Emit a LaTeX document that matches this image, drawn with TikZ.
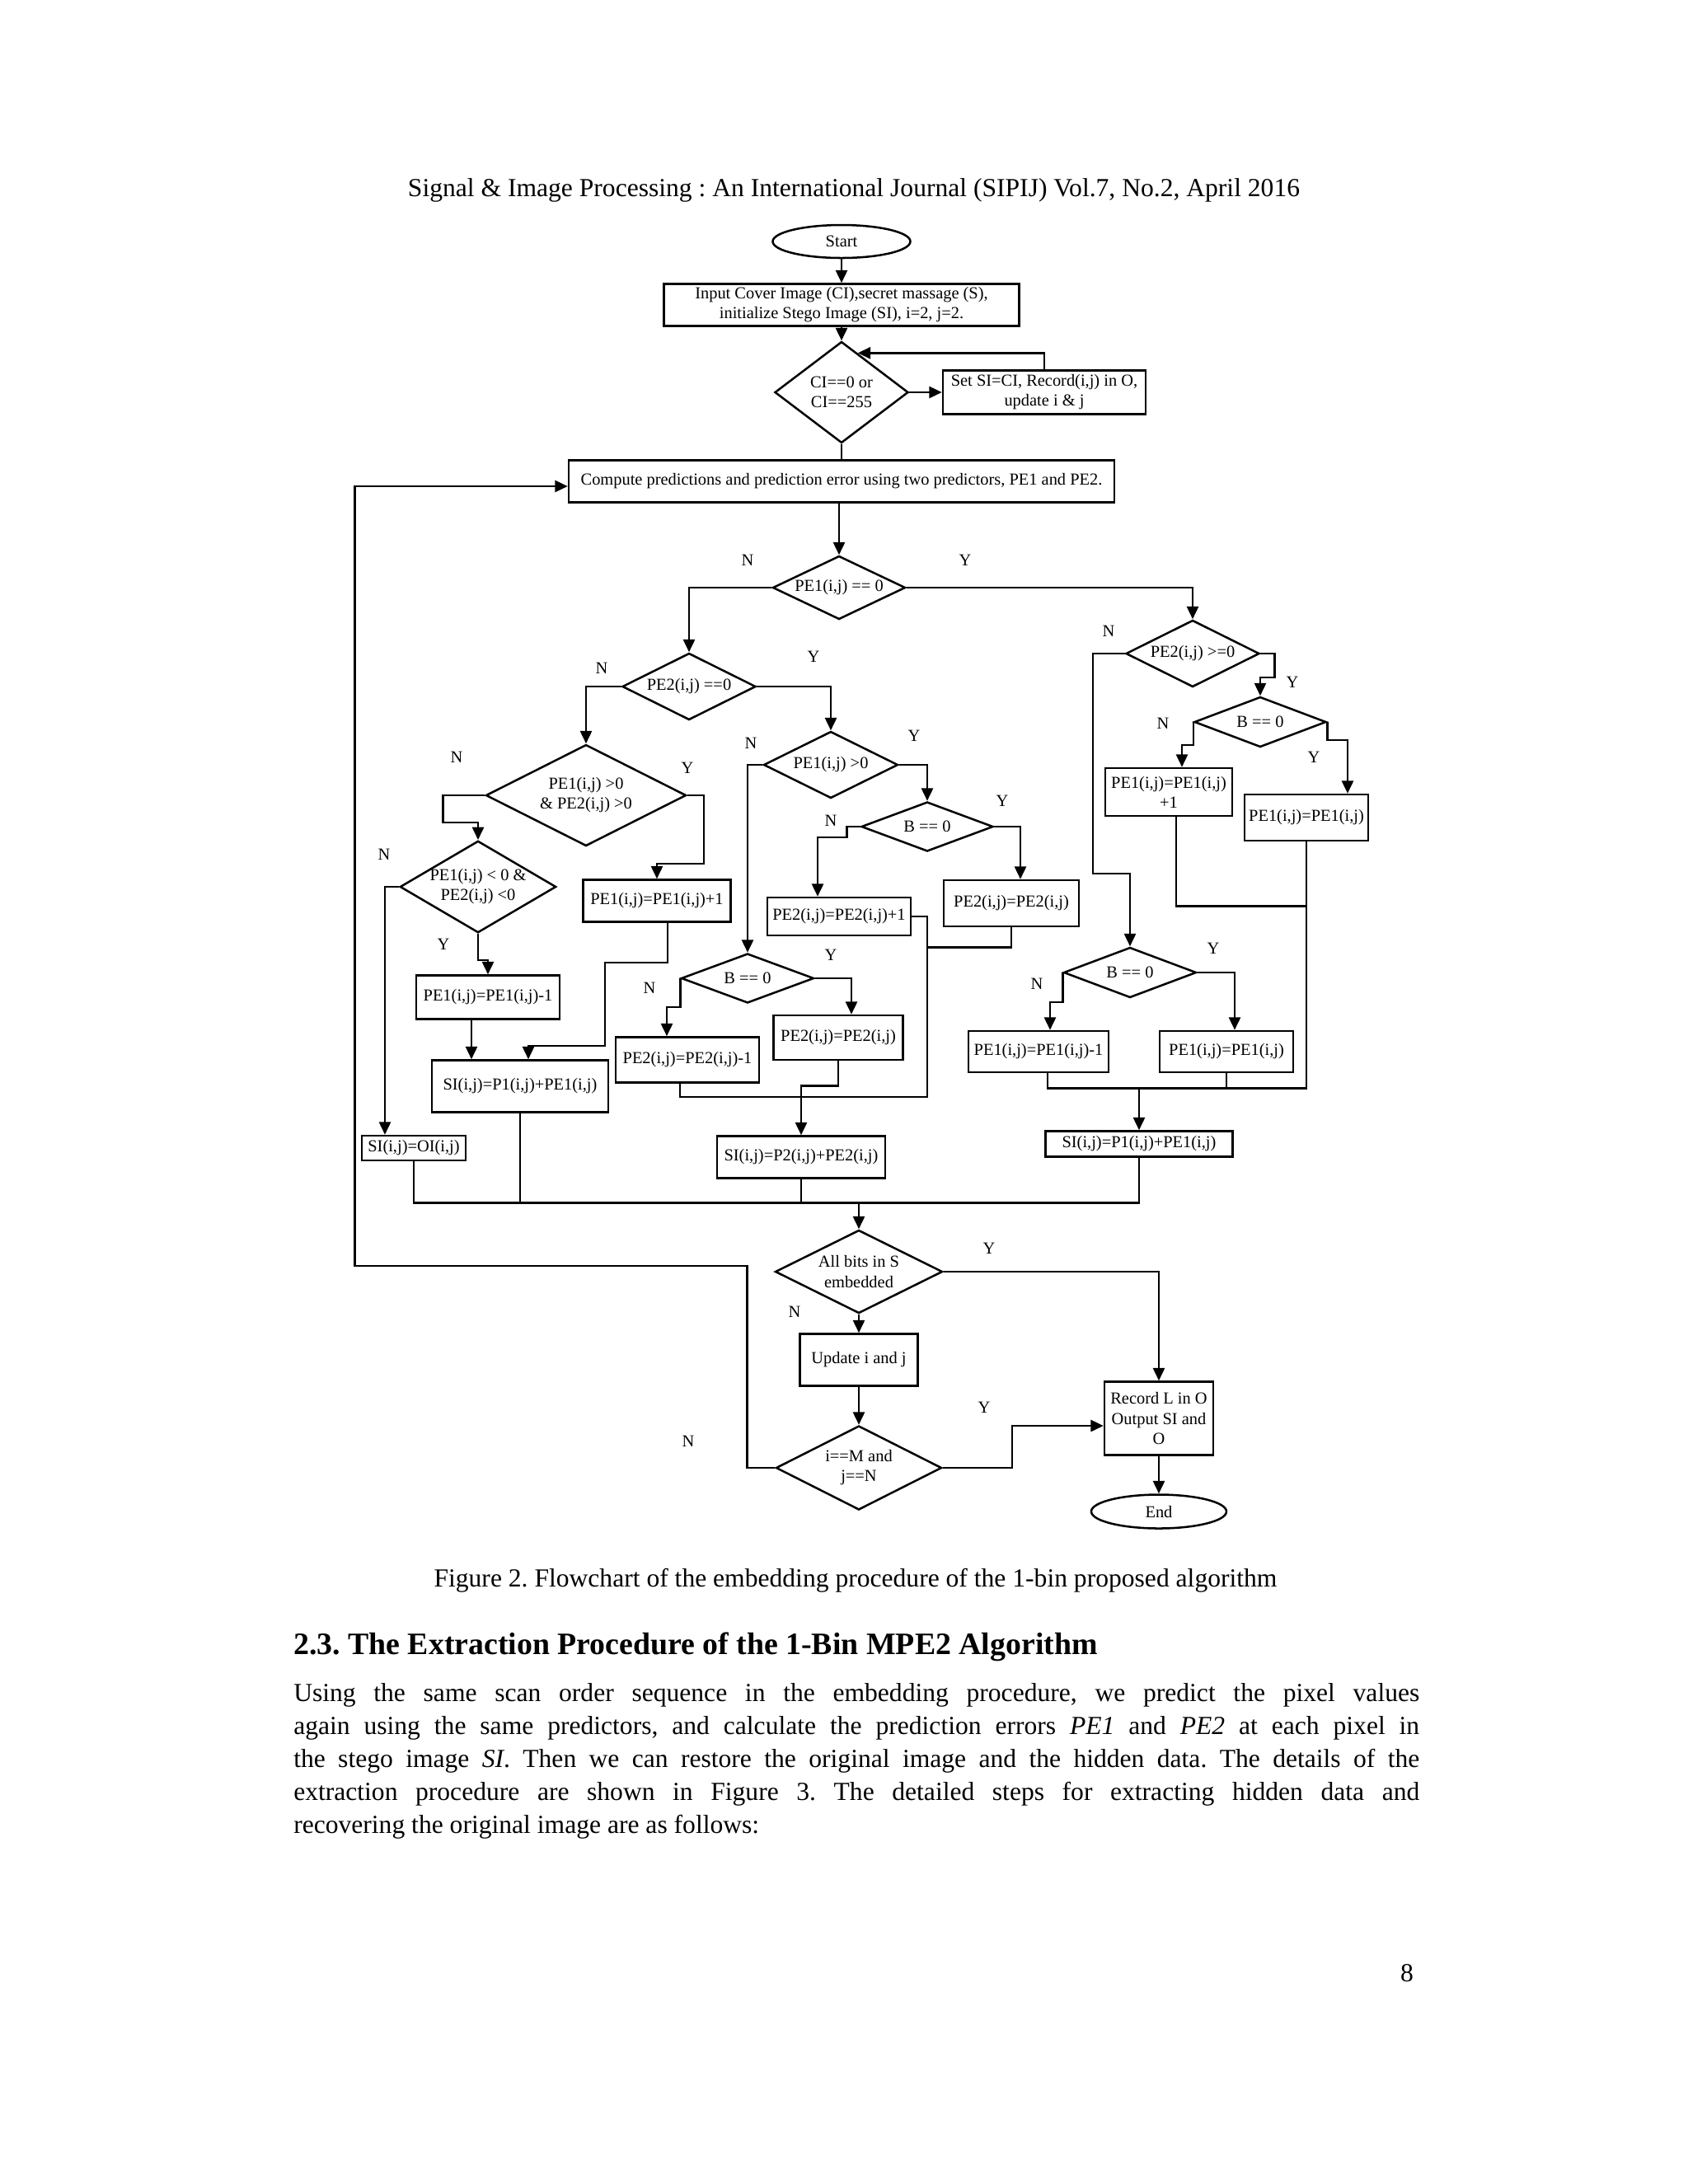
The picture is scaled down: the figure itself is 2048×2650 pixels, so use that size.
\documentclass[tikz,border=0pt]{standalone}
\usepackage{fontspec}
\setmainfont{Liberation Serif}
\usetikzlibrary{shapes.geometric,arrows.meta,calc}
\frenchspacing
\newcommand{\pxu}{0.29883pt}
\tikzset{
  chart/.style={font=\fontsize{6.1}{7.2}\selectfont},
  sz/.style 2 args={minimum width=#1*\pxu, minimum height=#2*\pxu},
  box/.style={draw, rectangle, inner sep=0pt, align=center, chart},
  dec/.style={draw, diamond, inner sep=0pt, align=center, chart, aspect=#1},
  dec/.default=2,
  term/.style={draw, ellipse, inner sep=0pt, chart},
  lbl/.style={chart, inner sep=0pt},
  arr/.style={-{Triangle[length=4.6pt,width=4.2pt]}},
  page/.style={font=\fontsize{9.44}{11.95}\selectfont}
}
\begin{document}
\begin{tikzpicture}[x=\pxu, y=-\pxu, line width=0.75pt]
\fill[white] (0,0) rectangle (2048,2650);
\useasboundingbox (0,0) rectangle (2048,2650);

\node[page] (head) at (1036,231) {Signal \& Image Processing : An International Journal (SIPIJ) Vol.7, No.2, April 2016};

% top of the chart
\node[term, sz={167}{40}] (start) at (1021,293) {Start};
\node[box, sz={431}{51}] (input) at (1021,370) {Input Cover Image (CI),secret massage (S),\\initialize Stego Image (SI), i=2, j=2.};
\node[dec=1.3, sz={162}{123}] (ci) at (1021,476) {CI==0 or\\CI==255};
\node[box, sz={246}{53}] (setci) at (1267,476) {Set SI=CI, Record(i,j) in O,\\update i \& j};
\node[box, sz={662}{51}] (compute) at (1021,584) {Compute predictions and prediction error using two predictors, PE1 and PE2.};

% left part
\node[dec=2.1, sz={161}{77}] (pe1z) at (1018,713) {PE1(i,j) == 0};
\node[dec, sz={162}{81}] (pe2z) at (836,833) {PE2(i,j) ==0};
\node[dec, sz={243}{123}] (bothpos) at (711,965) {PE1(i,j) >0\\\& PE2(i,j) >0};
\node[dec=1.7, sz={182}{108}] (bothneg) at (580,1076) {PE1(i,j) < 0 \&\\PE2(i,j) <0};
\node[box, sz={174}{53}] (dec1a) at (592,1210) {PE1(i,j)=PE1(i,j)-1};
\node[box, sz={179}{51}] (inc1a) at (797,1093) {PE1(i,j)=PE1(i,j)+1};
\node[box, sz={214}{63}] (sip1a) at (631,1318) {SI(i,j)=P1(i,j)+PE1(i,j)};
\node[box, sz={126}{30}] (sioi) at (502,1393) {SI(i,j)=OI(i,j)};

% middle part
\node[dec, sz={163}{81}] (pe1pos) at (1008,928) {PE1(i,j) >0};
\node[dec=2.7, sz={160}{60}] (bz1) at (1125,1003) {B == 0};
\node[box, sz={174}{46}] (inc2) at (1018,1112) {PE2(i,j)=PE2(i,j)+1};
\node[box, sz={164}{56}] (keep2a) at (1227,1096) {PE2(i,j)=PE2(i,j)};
\node[dec=2.7, sz={161}{60}] (bz2) at (907,1187) {B == 0};
\node[box, sz={174}{55}] (dec2) at (834,1286) {PE2(i,j)=PE2(i,j)-1};
\node[box, sz={157}{54}] (keep2b) at (1017,1259) {PE2(i,j)=PE2(i,j)};
\node[box, sz={204}{51}] (sip2) at (972,1404) {SI(i,j)=P2(i,j)+PE2(i,j)};

% right part
\node[dec, sz={162}{81}] (pe2nn) at (1447,793) {PE2(i,j) >=0};
\node[dec=2.7, sz={160}{61}] (bz3) at (1529,876) {B == 0};
\node[box, sz={154}{58}] (inc1b) at (1418,961) {PE1(i,j)=PE1(i,j)\\+1};
\node[box, sz={150}{56}] (keep1a) at (1585,992) {PE1(i,j)=PE1(i,j)};
\node[dec=2.7, sz={161}{61}] (bz4) at (1371,1180) {B == 0};
\node[box, sz={170}{50}] (dec1b) at (1260,1276) {PE1(i,j)=PE1(i,j)-1};
\node[box, sz={162}{50}] (keep1b) at (1488,1276) {PE1(i,j)=PE1(i,j)};
\node[box, sz={227}{31}] (sip1b) at (1382,1388) {SI(i,j)=P1(i,j)+PE1(i,j)};

% bottom
\node[dec, sz={203}{101}] (allbits) at (1042,1543) {All bits in S\\embedded};
\node[box, sz={143}{63}] (update) at (1042,1650) {Update i and j};
\node[dec, sz={201}{102}] (last) at (1042,1781) {i==M and\\j==N};
\node[box, sz={132}{89}] (record) at (1406,1721) {Record L in O\\Output SI and\\O};
\node[term, sz={164}{41}] (end) at (1406,1834) {End};

% connectors
\draw[arr] (start.south) -- (input.north);
\draw[arr] (input.south) -- (ci.north);
\draw[arr] (ci.east) -- (setci.west);
\coordinate (ciback) at ($(ci.north)!0.24!(ci.east)$);
\draw[arr] (setci.north) |- (ciback);
\draw (ci.south) -- (compute.north);
\draw[arr] (compute.south -| pe1z.north) -- (pe1z.north);
\draw[arr] (pe1z.west) -| (pe2z.north);
\draw[arr] (pe1z.east) -| (pe2nn.north);
\draw[arr] (pe2z.west) -| (bothpos.north);
\draw[arr] (pe2z.east) -| (pe1pos.north);
\draw[arr] (bothpos.west) -- ++(-51,0) -- ++(0,33) -| (bothneg.north);
\draw[arr] (bothpos.east) -- ++(20,0) -- ++(0,83) -| (inc1a.north);
\draw[arr] (bothneg.west) -| ($(sioi.north)+(-35,0)$);
\draw[arr] (bothneg.south) -- ++(0,32) -| (dec1a.north);
\draw[arr] ($(dec1a.south)+(-20,0)$) -- ($(sip1a.north)+(-59,0)$);
\draw[arr] ($(inc1a.south)+(13,0)$) -- ++(0,48) -- ++(-76,0) -- ++(0,101) -| ($(sip1a.north)+(10,0)$);

\draw[arr] (pe1pos.west) -| (bz2.north);
\draw[arr] (pe1pos.east) -| (bz1.north);
\draw[arr] (bz1.west) -- ++(-16,0) -- ++(0,13) -| ($(inc2.north)+(-26,0)$);
\draw[arr] (bz1.east) -| ($(keep2a.north)+(11,0)$);
\draw[arr] (bz2.west) -- ++(0,35) -| ($(dec2.north)+(-25,0)$);
\draw[arr] (bz2.east) -| ($(keep2b.north)+(16,0)$);
\draw[arr] (keep2b.south) -- ++(0,30) -| (sip2.north);
\draw ($(dec2.south)+(-9,0)$) -- ++(0,16) -- ++(300,0) |- (inc2.east);
\draw (keep2a.south) -- ++(0,24) -- ++(-102,0);

\draw[arr] (pe2nn.west) -- ++(-39,0) -- ++(0,267) -| (bz4.north);
\draw[arr] (pe2nn.east) -- ++(17,0) -- ++(0,29) -| (bz3.north);
\draw[arr] (bz3.west) -- ++(0,28) -| ($(inc1b.north)+(16,0)$);
\draw[arr] (bz3.east) -- ++(0,22) -| ($(keep1a.north)+(50,0)$);
\draw[arr] (bz4.west) -- ++(0,36) -| ($(dec1b.north)+(14,0)$);
\draw[arr] (bz4.east) -| ($(keep1b.north)+(10,0)$);
\draw ($(inc1b.south)+(9,0)$) -- ++(0,108) -| (keep1a.south);
\coordinate (rjoin) at ($(sip1b.north)+(0,-51)$);
\draw (keep1a.south) |- (rjoin);
\draw ($(dec1b.south)+(11,0)$) |- (rjoin);
\draw (keep1b.south) -- (keep1b.south |- rjoin);
\draw[arr] (rjoin) -- (sip1b.north);

\coordinate (merge) at ($(allbits.north)+(0,-32)$);
\draw (sioi.south) |- (merge);
\draw (sip1a.south) -- (sip1a.south |- merge);
\draw (sip2.south) -- (sip2.south |- merge);
\draw (sip1b.south) |- (merge);
\draw[arr] (merge) -- (allbits.north);
\draw[arr] (allbits.east) -| (record.north);
\draw[arr] (allbits.south) -- (update.north);
\draw[arr] (update.south) -- (last.north);
\draw[arr] (last.west) -- ++(-34,0) -- ++(0,-245) -- ++(-476,0) |- ($(compute.west)+(0,6)$);
\draw[arr] (last.east) -- ++(84,0) |- ($(record.west)+(0,9)$);
\draw[arr] (record.south) -- (end.north);

% branch labels
\node[lbl] (n1) at (907,680) {N};
\node[lbl] (y1) at (1171,680) {Y};
\node[lbl] (n2) at (730,811) {N};
\node[lbl] (y2) at (987,797) {Y};
\node[lbl] (n3) at (554,919) {N};
\node[lbl] (y3) at (834,932) {Y};
\node[lbl] (n4) at (466,1037) {N};
\node[lbl] (y4) at (538,1146) {Y};
\node[lbl] (n5) at (911,902) {N};
\node[lbl] (y5) at (1109,893) {Y};
\node[lbl] (n6) at (1008,996) {N};
\node[lbl] (y6) at (1216,972) {Y};
\node[lbl] (n7) at (788,1199) {N};
\node[lbl] (y7) at (1008,1159) {Y};
\node[lbl] (n8) at (1345,766) {N};
\node[lbl] (y8) at (1568,828) {Y};
\node[lbl] (n9) at (1411,878) {N};
\node[lbl] (y9) at (1594,919) {Y};
\node[lbl] (n10) at (1258,1194) {N};
\node[lbl] (y10) at (1472,1151) {Y};
\node[lbl] (y11) at (1200,1515) {Y};
\node[lbl] (n11) at (964,1592) {N};
\node[lbl] (n12) at (835,1749) {N};
\node[lbl] (y12) at (1194,1708) {Y};

% text under the chart
\node[page] (cap) at (1038,1918) {Figure 2. Flowchart of the embedding procedure of the 1-bin proposed algorithm};
\node[anchor=base west, inner sep=0pt, font=\bfseries\fontsize{11.3}{13.5}\selectfont] (sect) at (355,2007) {2.3. The Extraction Procedure of the 1-Bin MPE2 Algorithm};
\node[page, anchor=north west, inner sep=0pt, text width=408.2pt, align=justify] (para) at (355,2041) {Using the same scan order sequence in the embedding procedure, we predict the pixel values\linebreak again using the same predictors, and calculate the prediction errors \textit{PE1} and \textit{PE2} at each pixel in\linebreak the stego image \textit{SI}. Then we can restore the original image and the hidden data. The details of the\linebreak extraction procedure are shown in Figure 3. The detailed steps for extracting hidden data and\linebreak recovering the original image are as follows:};
\node[page] (pnum) at (1707,2394) {8};
\end{tikzpicture}
\end{document}
